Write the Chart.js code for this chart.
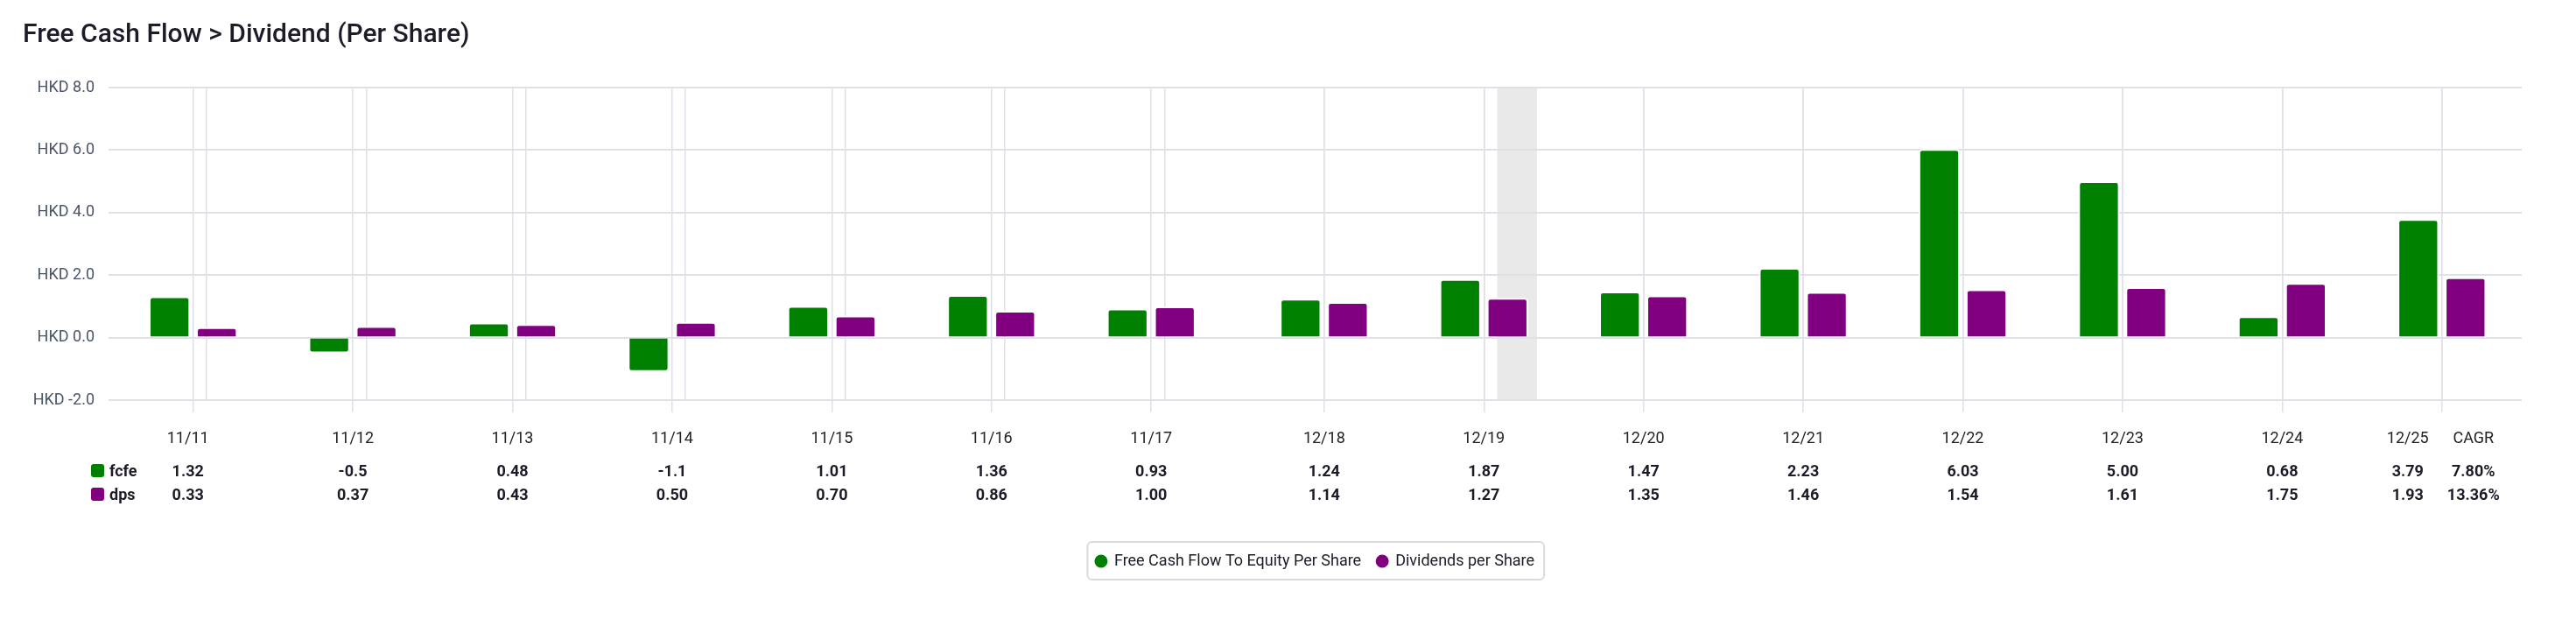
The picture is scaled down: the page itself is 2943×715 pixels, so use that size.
<!DOCTYPE html>
<html>
<head>
<meta charset="utf-8">
<title>Free Cash Flow > Dividend (Per Share)</title>
<script src="https://cdn.jsdelivr.net/npm/chart.js@4.4.1/dist/chart.umd.min.js"></script>
<style>
  html, body { margin: 0; padding: 0; background: #fff; }
  #wrap { position: relative; width: 2943px; height: 715px; }
</style>
</head>
<body>
<div id="wrap"><canvas id="myChart"></canvas></div>
<script>
// fiscal periods (month/year), values per share in HKD
var periods = ["11/11", "11/12", "11/13", "11/14", "11/15", "11/16", "11/17", "12/18", "12/19", "12/20", "12/21", "12/22", "12/23", "12/24", "12/25"];
var fcfe = [1.32, -0.5, 0.48, -1.1, 1.01, 1.36, 0.93, 1.24, 1.87, 1.47, 2.23, 6.03, 5.00, 0.68, 3.79];
var dps = [0.33, 0.37, 0.43, 0.50, 0.70, 0.86, 1.00, 1.14, 1.27, 1.35, 1.46, 1.54, 1.61, 1.75, 1.93];
var fcfeText = ["1.32", "-0.5", "0.48", "-1.1", "1.01", "1.36", "0.93", "1.24", "1.87", "1.47", "2.23", "6.03", "5.00", "0.68", "3.79"];
var dpsText = ["0.33", "0.37", "0.43", "0.50", "0.70", "0.86", "1.00", "1.14", "1.27", "1.35", "1.46", "1.54", "1.61", "1.75", "1.93"];
var cagr = { fcfe: "7.80%", dps: "13.36%" };
var yTicks = [-2, 0, 2, 4, 6, 8];
var shadeFrom = 2020 + 1 / 12, shadeTo = 2020 + 4 / 12;

var GREEN = "#008000";
var PURPLE = "#800080";
var GRID = "#dfe0e8";
var INK = "#1c1c28";

// "11/15" -> end of Nov 2015 as a decimal year
function periodEnd(p) {
    var parts = p.split("/");
    return 2000 + parseInt(parts[1], 10) + parseInt(parts[0], 10) / 12;
}
var periodX = periods.map(periodEnd);
var years = [];
for (var y = Math.ceil(periodX[0]); y <= Math.floor(periodX[periodX.length - 1]); y++) {
    years.push(y);
}

Chart.defaults.font.family = "Roboto, 'Noto Sans', sans-serif";

var shadePlugin = {
    id: "shade",
    beforeDraw: function (chart) {
        var ctx = chart.ctx, xs = chart.scales.x, a = chart.chartArea;
        var x0 = xs.getPixelForValue(shadeFrom), x1 = xs.getPixelForValue(shadeTo);
        ctx.save();
        ctx.fillStyle = "#e9e9e9";
        ctx.fillRect(x0, a.top, x1 - x0, a.bottom - a.top);
        ctx.restore();
    }
};

function roundRect(ctx, x, y, w, h, r) {
    ctx.beginPath();
    ctx.moveTo(x + r, y);
    ctx.arcTo(x + w, y, x + w, y + h, r);
    ctx.arcTo(x + w, y + h, x, y + h, r);
    ctx.arcTo(x, y + h, x, y, r);
    ctx.arcTo(x, y, x + w, y, r);
    ctx.closePath();
}

var tablePlugin = {
    id: "valueTable",
    afterDraw: function (chart) {
        var ctx = chart.ctx, xs = chart.scales.x;
        var last = periods.length - 1;
        ctx.save();
        ctx.textAlign = "center";
        ctx.textBaseline = "alphabetic";
        for (var i = 0; i < periods.length; i++) {
            var px = xs.getPixelForValue(periodX[i]);
            if (i === 0) px -= 6;
            if (i === last) px -= 39;
            ctx.font = "400 18px Roboto";
            ctx.fillStyle = "#222";
            ctx.fillText(periods[i], px, 506);
            ctx.font = "700 18px Roboto";
            ctx.fillStyle = INK;
            ctx.fillText(fcfeText[i], px, 544);
            ctx.fillText(dpsText[i], px, 571);
        }
        var cx = xs.getPixelForValue(periodX[last]) + 36;
        ctx.font = "400 18px Roboto";
        ctx.fillStyle = "#222";
        ctx.fillText("CAGR", cx, 506);
        ctx.font = "700 18px Roboto";
        ctx.fillStyle = INK;
        ctx.fillText(cagr.fcfe, cx, 544);
        ctx.fillText(cagr.dps, cx, 571);

        // row keys
        ctx.textAlign = "left";
        ctx.fillStyle = GREEN;
        roundRect(ctx, 104, 530, 15, 15, 3);
        ctx.fill();
        ctx.fillStyle = PURPLE;
        roundRect(ctx, 104, 557, 15, 15, 3);
        ctx.fill();
        ctx.fillStyle = INK;
        ctx.fillText("fcfe", 125, 544);
        ctx.fillText("dps", 125, 571);

        // frame round the legend
        var hb = chart.legend.legendHitBoxes;
        if (hb && hb.length) {
            var l = hb[0].left - 9.5;
            var r = hb[hb.length - 1].left + hb[hb.length - 1].width + 11;
            var cy = hb[0].top + 9;
            ctx.strokeStyle = "#d9dbe3";
            ctx.lineWidth = 2;
            roundRect(ctx, l, cy - 22, r - l, 43, 5);
            ctx.stroke();
        }
        ctx.restore();
    }
};

var ctx = document.getElementById("myChart");
var myChart = new Chart(ctx, {
    type: "bar",
    data: {
        datasets: [{
            label: "Free Cash Flow To Equity Per Share",
            data: periodX.map(function (x, i) { return { x: x, y: fcfe[i] }; }),
            backgroundColor: GREEN
        }, {
            label: "Dividends per Share",
            data: periodX.map(function (x, i) { return { x: x, y: dps[i] }; }),
            backgroundColor: PURPLE
        }]
    },
    options: {
        responsive: true,
        maintainAspectRatio: false,
        animation: false,
        layout: { padding: { top: 0, left: 26, right: 62, bottom: 55 } },
        datasets: {
            bar: {
                categoryPercentage: 0.592,
                barPercentage: 0.876,
                borderWidth: 2,
                borderColor: "#ffffff",
                borderRadius: 4,
                borderSkipped: "start"
            }
        },
        scales: {
            x: {
                type: "linear",
                offset: false,
                min: periodX[0] - 0.53,
                max: periodX[periodX.length - 1] + 0.5,
                border: { display: false },
                grid: { offset: false, color: GRID, lineWidth: 1.5, drawTicks: true, tickLength: 14 },
                ticks: { display: false },
                afterBuildTicks: function (s) {
                    s.ticks = periodX.map(function (v) { return { value: v }; });
                },
                afterFit: function (s) { s.height = 157; }
            },
            x2: {
                type: "linear",
                position: "bottom",
                offset: false,
                min: periodX[0] - 0.53,
                max: periodX[periodX.length - 1] + 0.5,
                border: { display: false },
                grid: { offset: false, color: GRID, lineWidth: 1.5, drawTicks: false },
                ticks: { display: false },
                afterBuildTicks: function (s) {
                    s.ticks = years.map(function (v) { return { value: v }; });
                }
            },
            y: {
                min: -2,
                max: 8,
                border: { display: false },
                grid: { color: GRID, lineWidth: 2, drawTicks: false },
                afterBuildTicks: function (s) {
                    s.ticks = yTicks.map(function (v) { return { value: v }; });
                },
                ticks: {
                    padding: 16,
                    color: "#4a5568",
                    font: { size: 18 },
                    callback: function (v) { return "HKD " + v.toFixed(1); }
                },
                afterFit: function (s) { s.width = 98; }
            }
        },
        plugins: {
            title: {
                display: true,
                text: "Free Cash Flow > Dividend (Per Share)",
                align: "start",
                color: INK,
                font: { size: 30, weight: "500" },
                padding: { top: 22, bottom: 42 }
            },
            legend: {
                position: "bottom",
                fullSize: false,
                labels: {
                    usePointStyle: true,
                    pointStyle: "circle",
                    boxWidth: 12,
                    boxHeight: 12,
                    padding: 18,
                    color: INK,
                    font: { size: 18 }
                }
            },
            tooltip: { enabled: false }
        }
    },
    plugins: [shadePlugin, tablePlugin]
});
</script>
</body>
</html>
